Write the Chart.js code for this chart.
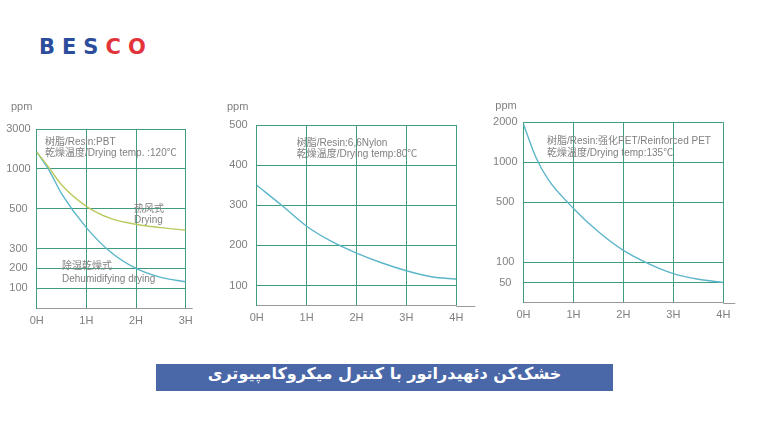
<!DOCTYPE html>
<html>
<head>
<meta charset="utf-8">
<script src="https://cdn.jsdelivr.net/npm/chart.js@4.4.0/dist/chart.umd.min.js"></script>
<style>
    html, body { margin: 0; padding: 0; background: #fff; }
    #page { position: relative; width: 768px; height: 432px; overflow: hidden; }
    #page canvas { position: absolute; left: 0; top: 0; }
    #logo { position: absolute; left: 39px; top: 35px; font: bold 21px "DejaVu Sans", sans-serif; letter-spacing: 7px; }
    #logo .blue { color: #2c4c9c; }
    #logo .red { color: #e2343b; }
    #banner {
        position: absolute; left: 156px; top: 364px; width: 457px; height: 27px;
        background: #4a67a8; color: #fff; text-align: center; line-height: 31px;
        font: bold 16px "DejaVu Sans", sans-serif; direction: rtl; overflow: hidden;
    }
</style>
</head>
<body>
<div id="page">
    <div id="logo"><span class="blue">BES</span><span class="red">CO</span></div>
    <canvas id="pbtChart" width="768" height="432"></canvas>
    <canvas id="nylonChart" width="768" height="432"></canvas>
    <canvas id="petChart" width="768" height="432"></canvas>
    <div id="banner">خشک‌کن دئهیدراتور با کنترل میکروکامپیوتری</div>
</div>
<script>
// --- Data ---
const pbtHours = [0, 0.25, 0.5, 1, 1.5, 2, 2.5, 3];
const pbtDehumidifying = [1850, 980, 690, 405, 280, 200, 155, 133];
const pbtHotAir = [1850, 1050, 800, 530, 450, 422, 405, 392];
const pbtTicks = [100, 200, 300, 500, 1000, 3000];

const nylonHours = [0, 0.5, 1, 1.5, 2, 2.5, 3, 3.5, 4];
const nylonValues = [350, 300, 248, 210, 181, 157, 137, 122, 116];
const nylonTicks = [100, 200, 300, 400, 500];

const petHours = [0, 0.25, 0.5, 1, 1.5, 2, 2.5, 3, 3.5, 4];
const petValues = [1950, 1120, 780, 460, 304, 180, 97, 72, 58, 50];
const petTicks = [50, 100, 500, 1000, 2000];

// --- Styles ---
const GRID = '#3f9c7c';
const AXIS = '#9a9a9a';
const BLUE = '#5cb6c9';
const YELLOW = '#bcc95e';
const TEXT = '#808080';
const FONT = '"Liberation Sans", "Noto Sans CJK SC", sans-serif';

// --- Y scale with uneven spacing between the printed ticks ---
class StepScale extends Chart.LinearScale {
    determineDataLimits() {
        const stops = this.options.stops;
        this.min = stops[0][0];
        this.max = stops[stops.length - 1][0];
    }
    buildTicks() {
        return this.options.tickValues.map(v => ({ value: v }));
    }
    getPixelForValue(value) {
        const stops = this.options.stops;
        const last = stops[stops.length - 1][1];
        let pos = 0;
        for (let i = 1; i < stops.length; i++) {
            const [v0, p0] = stops[i - 1];
            const [v1, p1] = stops[i];
            if (value <= v1 || i === stops.length - 1) {
                pos = p0 + (value - v0) / (v1 - v0) * (p1 - p0);
                break;
            }
        }
        return this.getPixelForDecimal(pos / last);
    }
    getValueForPixel(pixel) {
        const stops = this.options.stops;
        const pos = this.getDecimalForPixel(pixel) * stops[stops.length - 1][1];
        for (let i = 1; i < stops.length; i++) {
            const [v0, p0] = stops[i - 1];
            const [v1, p1] = stops[i];
            if (pos <= p1 || i === stops.length - 1) {
                return v0 + (pos - p0) / (p1 - p0) * (v1 - v0);
            }
        }
        return stops[0][0];
    }
}
StepScale.id = 'stepped';
StepScale.defaults = {};
Chart.register(StepScale);

// --- Labels drawn inside the panels ---
const panelText = {
    id: 'panelText',
    afterDraw(chart, args, opts) {
        const { ctx, chartArea } = chart;
        ctx.save();
        // x axis line runs a little past the last grid line
        ctx.strokeStyle = AXIS;
        ctx.lineWidth = 1;
        ctx.beginPath();
        ctx.moveTo(chartArea.right, Math.round(chartArea.bottom) + 0.5);
        ctx.lineTo(chartArea.right + opts.axisExt, Math.round(chartArea.bottom) + 0.5);
        ctx.stroke();

        ctx.fillStyle = TEXT;
        ctx.textBaseline = 'middle';
        ctx.textAlign = 'center';
        ctx.font = '11px ' + FONT;
        ctx.fillText('ppm', chartArea.left + opts.unitDx, chartArea.top + opts.unitDy);

        ctx.textAlign = 'left';
        ctx.font = '10px ' + FONT;
        opts.notes.forEach(n => ctx.fillText(n.text, chartArea.left + n.dx, chartArea.top + n.dy));
        ctx.restore();
    }
};

function buildPanel(canvasId, box, hoursMax, stops, tickValues, tickPad, datasets, text) {
    const Y_W = 45;
    const X_H = 24;
    return new Chart(document.getElementById(canvasId), {
        type: 'line',
        data: { datasets: datasets },
        options: {
            responsive: false,
            devicePixelRatio: 1,
            animation: false,
            events: [],
            layout: {
                padding: {
                    left: box.left - Y_W,
                    right: 768 - box.right,
                    top: box.top,
                    bottom: 432 - box.bottom - X_H
                }
            },
            scales: {
                x: {
                    type: 'linear',
                    min: 0,
                    max: hoursMax,
                    afterFit: s => { s.height = X_H; },
                    grid: { color: GRID, drawTicks: false },
                    border: { color: AXIS },
                    ticks: {
                        stepSize: 1,
                        padding: 6,
                        color: TEXT,
                        font: { size: 11, family: FONT },
                        callback: v => v + 'H'
                    }
                },
                y: {
                    type: 'stepped',
                    stops: stops,
                    tickValues: tickValues,
                    afterFit: s => { s.width = Y_W; },
                    grid: { color: GRID, drawTicks: false },
                    border: { color: GRID },
                    ticks: {
                        autoSkip: false,
                        padding: tickPad,
                        crossAlign: 'center',
                        color: TEXT,
                        font: { size: 11, family: FONT },
                        callback: v => String(v)
                    }
                }
            },
            plugins: {
                legend: { display: false },
                tooltip: { enabled: false },
                panelText: text
            }
        },
        plugins: [panelText]
    });
}

function curve(hours, values, color) {
    return {
        data: hours.map((h, i) => ({ x: h, y: values[i] })),
        borderColor: color,
        borderWidth: 1.4,
        pointRadius: 0,
        fill: false,
        cubicInterpolationMode: 'monotone'
    };
}

buildPanel('pbtChart',
    { left: 36.7, right: 185.7, top: 129, bottom: 308.3 }, 3,
    [[0, 0], [100, 1], [200, 2], [300, 3], [500, 5], [1000, 7], [3000, 9]],
    pbtTicks, 6,
    [curve(pbtHours, pbtHotAir, YELLOW), curve(pbtHours, pbtDehumidifying, BLUE)],
    {
        axisExt: 7, unitDx: -15, unitDy: -22.5,
        notes: [
            { text: '树脂/Resin:PBT', dx: 8.3, dy: 13.7 },
            { text: '乾燥温度/Drying temp. :120℃', dx: 8.3, dy: 24.3 },
            { text: '热风式', dx: 97.3, dy: 80 },
            { text: 'Drying', dx: 97.3, dy: 91 },
            { text: '除湿乾燥式', dx: 25.3, dy: 137.7 },
            { text: 'Dehumidifying drying', dx: 25.3, dy: 150 }
        ]
    });

buildPanel('nylonChart',
    { left: 256.7, right: 456.3, top: 125, bottom: 305.7 }, 4,
    [[50, 0], [500, 9]],
    nylonTicks, 9,
    [curve(nylonHours, nylonValues, BLUE)],
    {
        axisExt: 19, unitDx: -19, unitDy: -18.5,
        notes: [
            { text: '树脂/Resin:6,6Nylon', dx: 40, dy: 18 },
            { text: '乾燥温度/Drying temp:80℃', dx: 40, dy: 29.3 }
        ]
    });

buildPanel('petChart',
    { left: 523.5, right: 723.3, top: 122.3, bottom: 302.5 }, 4,
    [[0, 0], [50, 1], [100, 2], [500, 5], [1000, 7], [2000, 9]],
    petTicks, 6,
    [curve(petHours, petValues, BLUE)],
    {
        axisExt: 12, unitDx: -17.5, unitDy: -16,
        notes: [
            { text: '树脂/Resin:强化PET/Reinforced PET', dx: 23.5, dy: 19.4 },
            { text: '乾燥温度/Drying temp:135℃', dx: 23.5, dy: 31 }
        ]
    });
</script>
</body>
</html>
